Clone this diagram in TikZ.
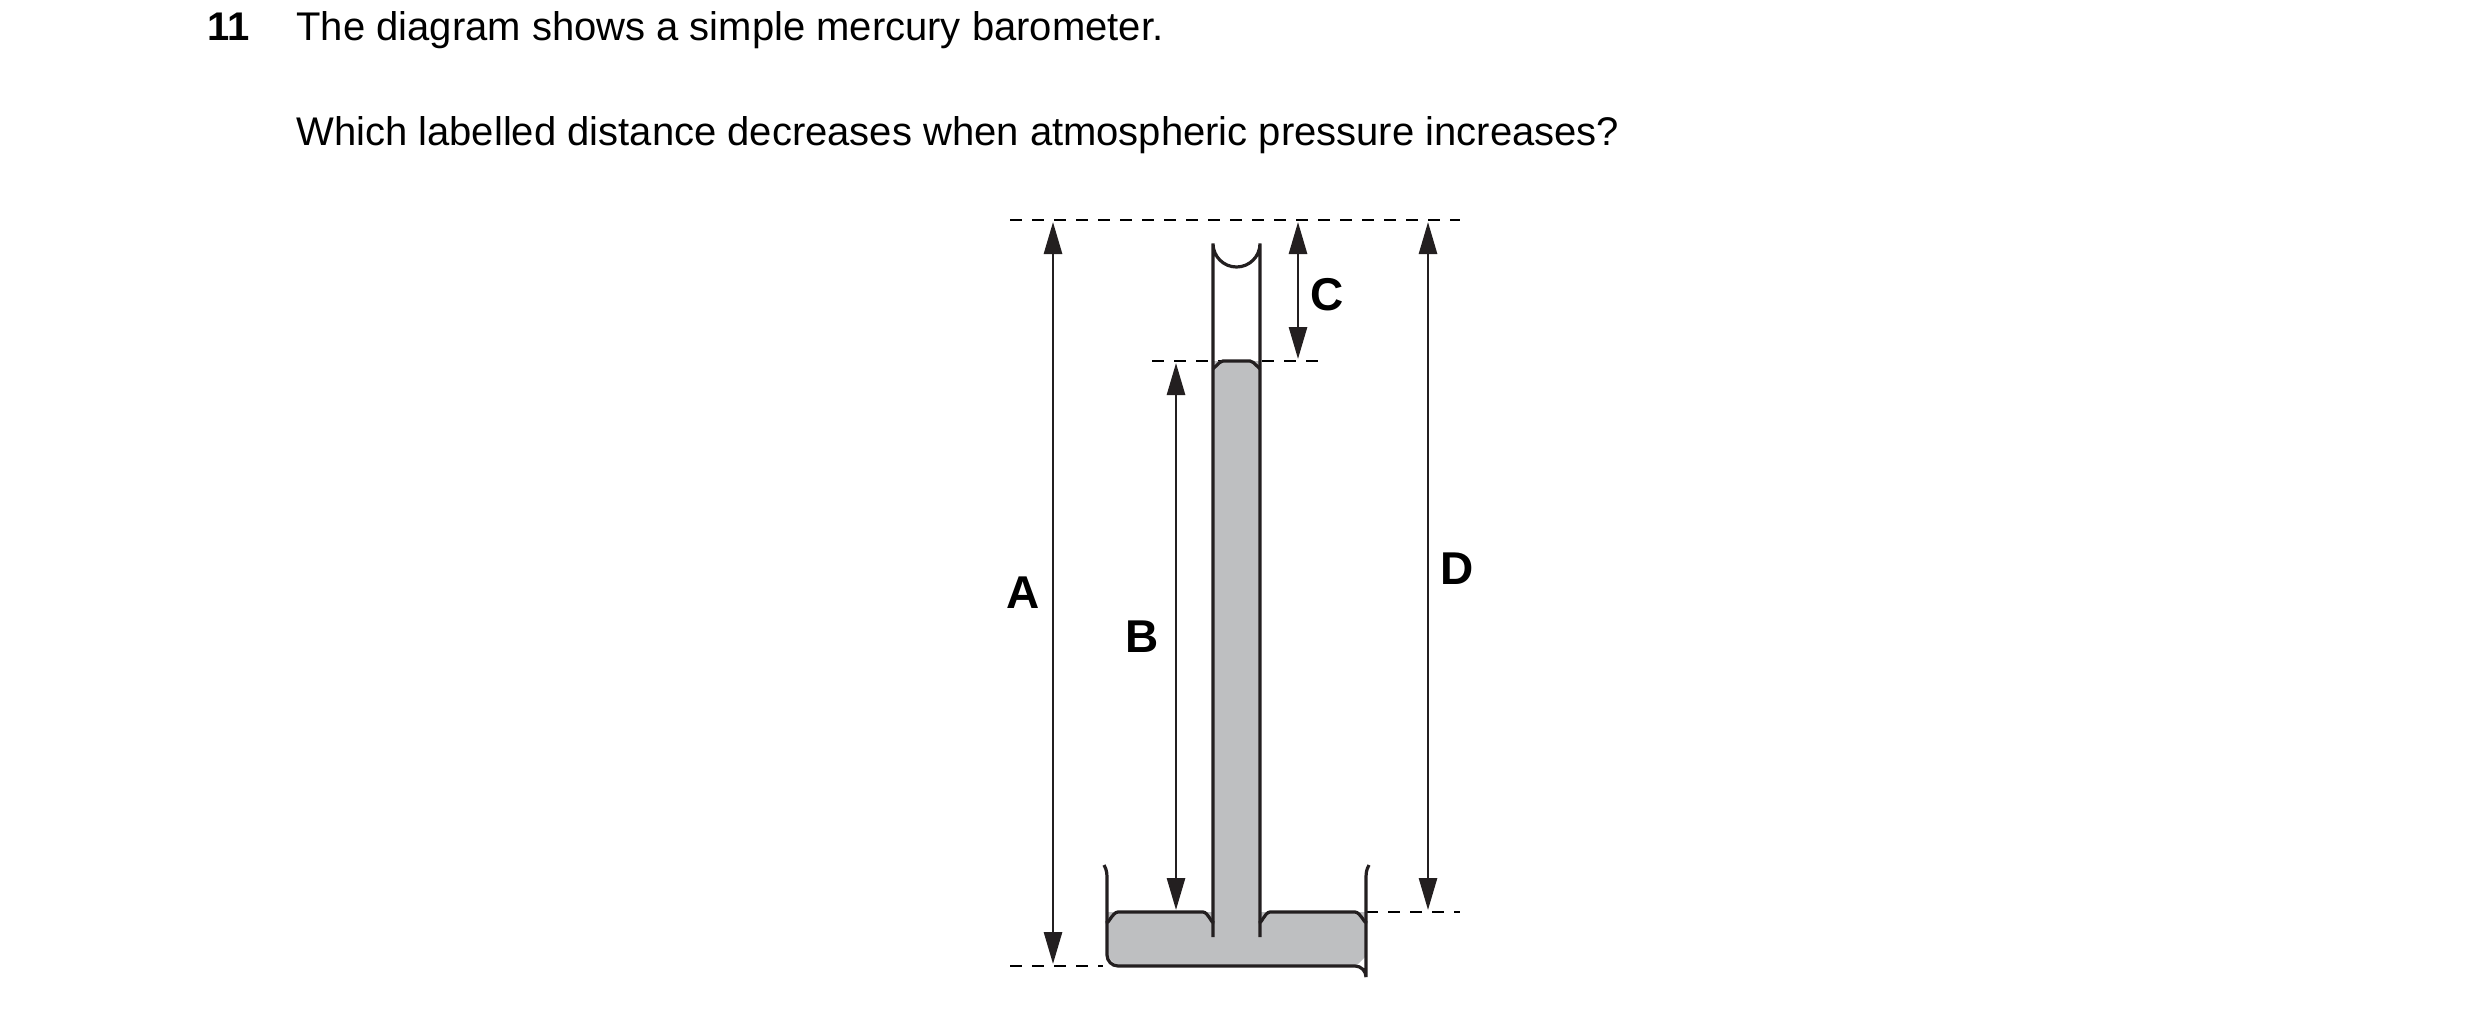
\documentclass[tikz,border=0pt]{standalone}
\usepackage{fontspec}
\setmainfont{Liberation Sans}
\usetikzlibrary{arrows.meta}
\begin{document}
\begin{tikzpicture}[x=0.5pt,y=-0.5pt,
  line/.style={line width=1.6pt,draw={rgb,255:red,35;green,31;blue,32}},
  dim/.style={line width=1.4pt,draw={rgb,255:red,35;green,31;blue,32},{Triangle[length=16pt,width=9pt]}-{Triangle[length=16pt,width=9pt]}},
  guide/.style={line width=0.8pt,dash pattern=on 6pt off 5pt},
  lab/.style={font=\fontsize{23}{23}\selectfont\bfseries,inner sep=0pt},
  txt/.style={font=\fontsize{20}{24}\selectfont,inner sep=0pt,anchor=base west}]
\useasboundingbox (0,0) rectangle (2480,1008);
\definecolor{merc}{RGB}{190,191,193}
% text
\node[txt,font=\fontsize{20}{24}\selectfont\bfseries] (num) at (207,40) {11};
\node[txt] (q1) at (296,40) {The diagram shows a simple mercury barometer.};
\node[txt] (q2) at (296,145) {Which labelled distance decreases when atmospheric pressure increases?};
% coordinates
\coordinate (Atop) at (1053,222); \coordinate (Abot) at (1053,964);
\coordinate (Btop) at (1176,363); \coordinate (Bbot) at (1176,910);
\coordinate (Ctop) at (1298,222); \coordinate (Cbot) at (1298,359);
\coordinate (Dtop) at (1428,222); \coordinate (Dbot) at (1428,910);
% guides
\draw[guide] (1010,220) -- (1460,220);
\draw[guide] (1152,361) -- (1327,361);
\draw[guide] (1010,966) -- (1103,966);
\draw[guide] (1366,912) -- (1460,912);
% mercury fill
\fill[merc] (1107,912) -- (1213,912) -- (1213,361) -- (1260,361) -- (1260,912) -- (1366,912) -- (1366,956) -- (1356,966) -- (1117,966) -- (1107,956) -- cycle;
% mercury surfaces
\draw[line] (1107,921) to[out=-90,in=180] (1118,912) -- (1203,912) to[out=0,in=-90] (1213,921);
\draw[line] (1260,921) to[out=-90,in=180] (1270,912) -- (1355,912) to[out=0,in=-90] (1366,921);
\draw[line] (1213,367) to[out=-90,in=180] (1223,361) -- (1250,361) to[out=0,in=-90] (1260,367);
% dish
\draw[line] (1104,865) to[out=-60,in=90] (1107,880) -- (1107,955) arc[start angle=180,end angle=90,radius=11] -- (1355,966) arc[start angle=-90,end angle=0,radius=11] -- (1366,880) to[out=90,in=-120] (1369,865);
% tube
\draw[line] (1213,937) -- (1213,243.5) arc[start angle=180,end angle=0,radius=23.5] -- (1260,937);
% dimension arrows
\draw[dim] (Atop) -- (Abot);
\draw[dim] (Btop) -- (Bbot);
\draw[dim] (Ctop) -- (Cbot);
\draw[dim] (Dtop) -- (Dbot);
\node[lab] (A) at (1023,593) {A};
\node[lab] (B) at (1142,637) {B};
\node[lab] (C) at (1327,295) {C};
\node[lab] (D) at (1457,569) {D};
\end{tikzpicture}
\end{document}
